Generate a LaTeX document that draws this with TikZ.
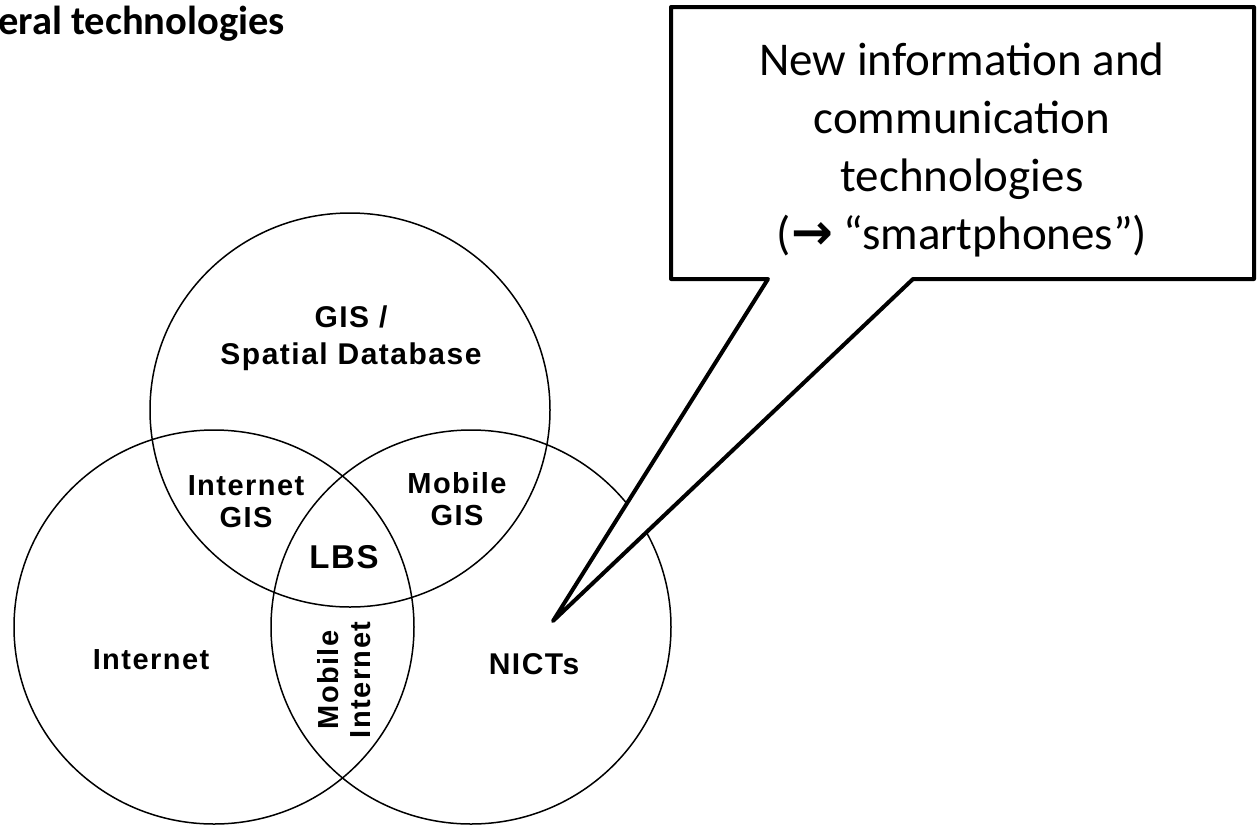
\documentclass[tikz,border=0pt]{standalone}
\usepackage{fontspec}
\setmainfont{Liberation Sans}
\newfontfamily\calibri{Carlito}
\newfontfamily\venn[LetterSpace=5]{Liberation Sans}
\newfontfamily\dejavu{DejaVu Sans}
\usetikzlibrary{shapes.geometric}
\begin{document}
\begin{tikzpicture}[x=1pt,y=-1pt,
  vennset/.style={draw, ellipse, line width=1.5pt, inner sep=0pt, minimum width=400pt, minimum height=394pt},
  lbl/.style={font=\venn\bfseries\fontsize{29}{32}\selectfont, align=center, inner sep=0pt},
  wlbl/.style={font=\venn\bfseries\fontsize{30}{37}\selectfont, align=center, inner sep=0pt},
  biglbl/.style={font=\venn\bfseries\fontsize{33}{36}\selectfont, align=center, inner sep=0pt},
  calltext/.style={font=\calibri\fontsize{47}{58}\selectfont, align=center, inner sep=0pt},
  callshape/.style={draw, line width=4pt, line join=round, fill=white},
  titletext/.style={font=\calibri\bfseries\fontsize{40.5}{44}\selectfont, inner sep=0pt}
]
\useasboundingbox (0,0) rectangle (1258,828);
% title
\node[titletext, anchor=base west] (title) at (-2,34) {eral technologies};
% Venn sets
\node[vennset] (gis) at (350,410) {};
\node[vennset] (internet) at (214,627) {};
\node[vennset] (nicts) at (471,627) {};
% labels
\node[wlbl] (gislbl) at (351,338) {GIS /\\Spatial Database};
\node[lbl] (igis) at (246,502) {Internet\\GIS};
\node[lbl] (mgis) at (457,499) {Mobile\\GIS};
\node[biglbl] (lbs) at (344,557) {LBS};
\node[lbl] (inet) at (151,660) {Internet};
\node[wlbl] (nictslbl) at (534,664) {NICTs};
\node[lbl, rotate=90] (mint) at (344,680) {Mobile\\Internet};
% callout
\coordinate (tip) at (553,621);
\draw[callshape] (671,7) -- (1254,7) -- (1254,279) -- (913,279) -- (tip) -- (768,279) -- (671,279) -- cycle;
\node[calltext] (callout) at (962,150) {New information and\\communication\\technologies\\({\dejavu\bfseries\fontsize{50}{58}\selectfont →} “smartphones”)};
\end{tikzpicture}
\end{document}
